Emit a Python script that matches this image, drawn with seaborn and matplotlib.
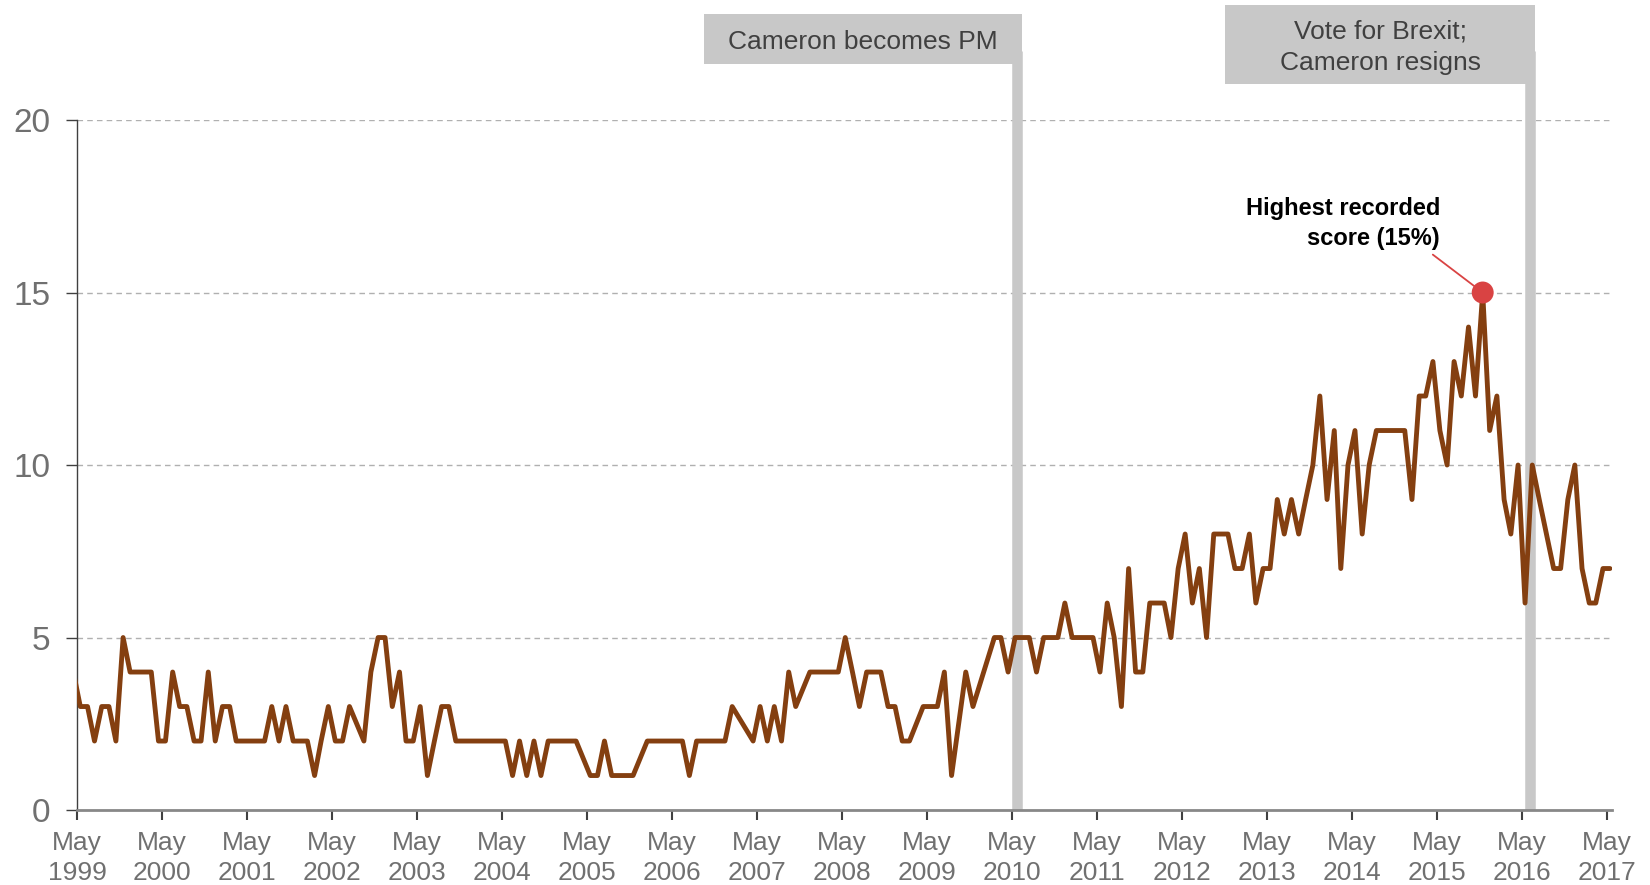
import pandas as pd
import numpy as np
import matplotlib.pyplot as plt
import matplotlib.dates as mdates
from matplotlib.patches import Rectangle
from matplotlib.transforms import blended_transform_factory
import seaborn as sns

# monthly scores, April 1999 to May 2017 (None = no poll that month)
first_month = "1999-04"
scores = [
    4, 3, 3, 2, 3, 3, 2, 5, 4,                      # Apr-Dec 1999
    4, 4, 4, 2, 2, 4, 3, 3, 2, 2, 4, 2,             # 2000
    3, 3, 2, 2, 2, 2, 2, 3, 2, 3, 2, 2,             # 2001
    2, 1, 2, 3, 2, 2, 3, None, 2, 4, 5, 5,          # 2002
    3, 4, 2, 2, 3, 1, 2, 3, 3, 2, 2, 2,             # 2003
    2, 2, 2, 2, 2, 1, 2, 1, 2, 1, 2, 2,             # 2004
    2, 2, 2, None, 1, 1, 2, 1, 1, 1, 1, None,       # 2005
    2, 2, 2, 2, 2, 2, 1, 2, 2, 2, 2, 2,             # 2006
    3, None, None, 2, 3, 2, 3, 2, 4, 3, None, 4,    # 2007
    4, 4, 4, 4, 5, 4, 3, 4, 4, 4, 3, 3,             # 2008
    2, 2, None, 3, 3, 3, 4, 1, None, 4, 3, None,    # 2009
    None, 5, 5, 4, 5, 5, 5, 4, 5, 5, 5, 6,          # 2010
    5, 5, 5, 5, 4, 6, 5, 3, 7, 4, 4, 6,             # 2011
    6, 6, 5, 7, 8, 6, 7, 5, 8, 8, 8, 7,             # 2012
    7, 8, 6, 7, 7, 9, 8, 9, 8, 9, 10, 12,           # 2013
    9, 11, 7, 10, 11, 8, 10, 11, 11, 11, 11, 11,    # 2014
    9, 12, 12, 13, 11, 10, 13, 12, 14, 12, 15, 11,  # 2015
    12, 9, 8, 10, 6, 10, 9, 8, 7, 7, 9, 10,         # 2016
    7, 6, 6, 7, 7,                                  # Jan-May 2017
]

events = ["Cameron becomes PM", "Vote for Brexit;\nCameron resigns"]
event_dates = ["2010-05-22", "2016-06-07"]

y_ticks = [0, 5, 10, 15, 20]
tick_years = list(range(1999, 2018))

months = pd.date_range(first_month, periods=len(scores), freq="MS")
df = pd.DataFrame({"date": months + pd.Timedelta(days=14), "score": scores}).dropna()

line_color = "#843F10"
grey_bar = "#C8C8C8"
label_grey = "#707070"

sns.set_style("white")
plt.rcParams["font.family"] = ["Liberation Sans", "DejaVu Sans"]

fig = plt.figure(figsize=(16.5, 8.85), dpi=100)
ax = fig.add_axes([0.0467, 0.0847, 0.9303, 0.7797])

# event bars and boxes
trans = blended_transform_factory(ax.transData, ax.transAxes)
box_specs = [(1367, 1.081, 1.154), (1333, 1.052, 1.167)]
for text, d, (w, y0, y1) in zip(events, event_dates, box_specs):
    xd = mdates.date2num(pd.Timestamp(d))
    ax.axvline(xd, ymin=0, ymax=1.1, lw=7.6, color=grey_bar, clip_on=False,
               solid_capstyle="butt", zorder=1)
    right = xd + 21
    ax.add_patch(Rectangle((right - w, y0), w, y1 - y0, transform=trans,
                           facecolor=grey_bar, edgecolor="none", clip_on=False, zorder=1))
    ax.text(right - w / 2, (y0 + y1) / 2 - 0.004, text, transform=trans, ha="center",
            va="center", fontsize=19, color="#404040", linespacing=1.35, zorder=2)

# gridlines
for yv in y_ticks[1:]:
    ax.axhline(yv, color="#B0B0B0", lw=1, ls=(0, (4, 3)), zorder=0)

sns.lineplot(data=df, x="date", y="score", ax=ax, color=line_color, lw=3.5, zorder=3)

# highest point
peak = df.loc[df["score"].idxmax()]
sns.scatterplot(x=[peak["date"]], y=[peak["score"]], ax=ax, s=250, color="#D94343",
                edgecolor="none", zorder=4)
ax.annotate("Highest recorded\nscore (15%)", xy=(peak["date"], peak["score"]),
            xytext=(pd.Timestamp("2015-05-15"), 17.0), ha="right", va="center",
            fontsize=17, fontweight="bold", color="black", linespacing=1.35,
            arrowprops=dict(arrowstyle="-", color="#D94343", lw=1.3, relpos=(0.93, 0),
                            shrinkA=2, shrinkB=7))

ax.set_xlim(pd.Timestamp("1999-05-01"), pd.Timestamp("2017-05-24"))
ax.set_ylim(0, 20)
ax.set_yticks(y_ticks)
ax.set_xticks([pd.Timestamp(f"{y}-05-01") for y in tick_years])
ax.set_xticklabels([f"May\n{y}" for y in tick_years])
ax.set_xlabel("")
ax.set_ylabel("")

for s in ["top", "right"]:
    ax.spines[s].set_visible(False)
ax.spines["bottom"].set_color("#888888")
ax.spines["bottom"].set_linewidth(2)
ax.spines["left"].set_color("#404040")
ax.spines["left"].set_linewidth(1)

ax.tick_params(axis="x", direction="out", length=7, width=1.5, color="#404040",
               labelsize=19, labelcolor=label_grey, pad=8, bottom=True)
ax.tick_params(axis="y", direction="out", length=8, width=1, color="#404040",
               labelsize=24, labelcolor=label_grey, pad=11, left=True)
for lab in ax.get_xticklabels():
    lab.set_linespacing(1.3)

fig.savefig("out.png", dpi=100)
